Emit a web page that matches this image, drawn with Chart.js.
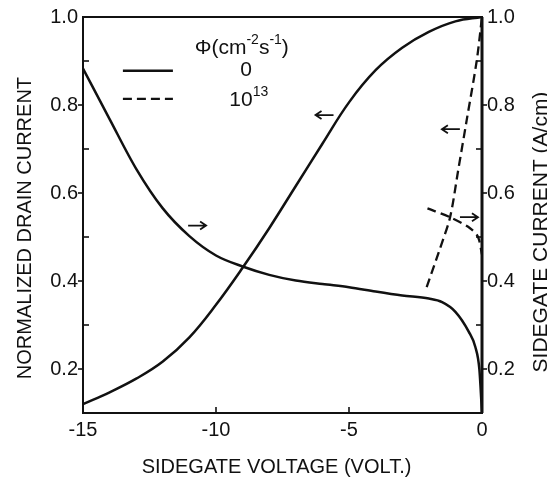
<!DOCTYPE html>
<html><head><meta charset="utf-8">
<script src="https://cdn.jsdelivr.net/npm/chart.js@4/dist/chart.umd.min.js"></script>
<style>html,body{margin:0;padding:0;background:#fff;}#wrap{width:547px;height:481px;}</style>
</head><body><div id="wrap"><canvas id="c" width="547" height="481"></canvas></div>
<script>
const FONT = '"Liberation Sans", Arial, sans-serif';
const INK = '#111';

// Sidegate voltage (V) and normalized drain current, flux 0 (solid, left axis)
const vDrain0   = [-15, -14, -13, -12, -11, -10, -9, -8, -7, -6, -5, -4, -3, -2, -1, 0];
const drain0    = [0.12, 0.147, 0.178, 0.217, 0.272, 0.346, 0.43, 0.52, 0.616, 0.712, 0.806, 0.879, 0.93, 0.966, 0.99, 1.0];

// Sidegate current (A/cm), flux 0 (solid, right axis)
const vSide0    = [-15, -14, -13, -12, -11, -10, -9, -8, -7, -6, -5, -4, -3, -2, -1.5, -1, -0.5, -0.25, -0.1, 0];
const side0     = [0.883, 0.768, 0.655, 0.565, 0.502, 0.458, 0.433, 0.414, 0.401, 0.393, 0.386, 0.376, 0.367, 0.36, 0.352, 0.33, 0.285, 0.25, 0.2, 0.1];

// Flux 1e13 (dashed)
const vDrain13  = [-2.08, -1.6, -1.2, -0.9, -0.58, -0.2, 0];
const drain13   = [0.386, 0.47, 0.545, 0.65, 0.764, 0.9, 1.0];
const vSide13   = [-2.05, -1.2, -0.45, -0.15, 0];
const side13    = [0.565, 0.545, 0.52, 0.5, 0.46];

// Axis ticks
const xTicks = [-15, -10, -5, 0];
const yLabels = ['0.2', '0.4', '0.6', '0.8', '1.0'];

// Direction arrows (data coords, axis they point to)
const arrows = [
  {x: -5.92, y: 0.777, dir: -1},
  {x: -10.71, y: 0.526, dir: 1},
  {x: -1.17, y: 0.745, dir: -1},
  {x: -0.49, y: 0.545, dir: 1}
];

const pts = (xs, ys) => xs.map((x, i) => ({x, y: ys[i]}));

function richText(ctx, parts, x, y) {
  let cx = x;
  for (const p of parts) {
    ctx.font = (p.sup ? '14px ' : '21px ') + FONT;
    ctx.fillText(p.t, cx, p.sup ? y - 8 : y);
    cx += ctx.measureText(p.t).width;
  }
}

const decor = {
  id: 'decor',
  afterDraw(chart) {
    const ctx = chart.ctx, a = chart.chartArea;
    const sx = chart.scales.x, sy = chart.scales.y, sy2 = chart.scales.y2;
    ctx.save();
    ctx.strokeStyle = INK; ctx.fillStyle = INK;
    // frame
    ctx.lineWidth = 2;
    ctx.strokeRect(a.left, a.top, a.right - a.left, a.bottom - a.top);
    ctx.lineWidth = 3;
    ctx.beginPath(); ctx.moveTo(a.right, a.top); ctx.lineTo(a.right, a.bottom); ctx.stroke();
    // tick marks
    ctx.lineWidth = 1.6;
    for (const t of sy.ticks) {
      const k = Math.round(t.value * 10);
      if (k <= 1 || k >= 10) continue;
      const p = sy.getPixelForValue(t.value);
      ctx.beginPath();
      if (k % 2 === 0) { ctx.moveTo(a.left - 5, p); ctx.lineTo(a.left, p); }
      else { ctx.moveTo(a.left, p); ctx.lineTo(a.left + 6, p); }
      ctx.stroke();
    }
    for (const t of sy2.ticks) {
      const k = Math.round(t.value * 10);
      if (k <= 1 || k >= 10) continue;
      const p = sy2.getPixelForValue(t.value);
      ctx.beginPath();
      if (k % 2 === 0) { ctx.moveTo(a.right, p); ctx.lineTo(a.right + 5, p); }
      else { ctx.moveTo(a.right, p); ctx.lineTo(a.right - 6, p); }
      ctx.stroke();
    }
    for (const t of sx.ticks) {
      if (t.value <= sx.min || t.value >= sx.max) continue;
      const p = sx.getPixelForValue(t.value);
      ctx.beginPath(); ctx.moveTo(p, a.bottom); ctx.lineTo(p, a.bottom - 6); ctx.stroke();
    }
    // axis titles
    ctx.font = '20px ' + FONT;
    ctx.textAlign = 'center'; ctx.textBaseline = 'middle';
    ctx.fillText('SIDEGATE VOLTAGE (VOLT.)', a.left + (a.right - a.left) * 0.485, a.bottom + 54);
    ctx.save(); ctx.translate(25, a.top + (a.bottom - a.top) * 0.533); ctx.rotate(-Math.PI / 2);
    ctx.fillText('NORMALIZED DRAIN CURRENT', 0, 0); ctx.restore();
    ctx.save(); ctx.translate(541, a.top + (a.bottom - a.top) * 0.543); ctx.rotate(-Math.PI / 2);
    ctx.font = '21px ' + FONT;
    ctx.fillText('SIDEGATE CURRENT (A/cm)', 0, 0); ctx.restore();
    // legend
    const lx0 = sx.getPixelForValue(-13.5), lx1 = sx.getPixelForValue(-11.62);
    const ly0 = sy.getPixelForValue(0.878), ly1 = sy.getPixelForValue(0.814);
    ctx.lineWidth = 2.5;
    ctx.beginPath(); ctx.moveTo(lx0, ly0); ctx.lineTo(lx1, ly0); ctx.stroke();
    ctx.lineWidth = 2.3; ctx.setLineDash([9, 5]);
    ctx.beginPath(); ctx.moveTo(lx0, ly1); ctx.lineTo(lx1, ly1); ctx.stroke();
    ctx.setLineDash([]);
    ctx.textAlign = 'left';
    richText(ctx, [{t: 'Φ(cm'}, {t: '-2', sup: true}, {t: 's'}, {t: '-1', sup: true}, {t: ')'}],
      sx.getPixelForValue(-10.8), sy.getPixelForValue(0.93));
    ctx.textAlign = 'center'; ctx.font = '21px ' + FONT;
    ctx.fillText('0', sx.getPixelForValue(-8.87), ly0);
    ctx.textAlign = 'left';
    richText(ctx, [{t: '10'}, {t: '13', sup: true}], sx.getPixelForValue(-9.5), ly1 + 1);
    // arrows
    ctx.lineWidth = 1.8;
    for (const ar of arrows) {
      const cx = sx.getPixelForValue(ar.x);
      const cy = (ar.dir < 0 ? sy : sy2).getPixelForValue(ar.y);
      const tip = cx + ar.dir * 9, tail = cx - ar.dir * 9;
      ctx.beginPath(); ctx.moveTo(tail, cy); ctx.lineTo(tip, cy);
      ctx.moveTo(tip - ar.dir * 6, cy - 4); ctx.lineTo(tip, cy); ctx.lineTo(tip - ar.dir * 6, cy + 4);
      ctx.stroke();
    }
    ctx.restore();
  }
};

const yTickCb = (v) => { const k = Math.round(v * 10); return k % 2 === 0 && yLabels.includes((k / 10).toFixed(1)) ? (k / 10).toFixed(1) : ''; };
const solid = {borderColor: INK, borderWidth: 2.5, pointRadius: 0, tension: 0.4, fill: false};
const dashed = {borderColor: INK, borderWidth: 2.3, borderDash: [9, 5], pointRadius: 0, tension: 0.3, fill: false};

new Chart(document.getElementById('c'), {
  type: 'line',
  data: {
    datasets: [
      Object.assign({label: 'drain 0', data: pts(vDrain0, drain0), yAxisID: 'y'}, solid),
      Object.assign({label: 'sidegate 0', data: pts(vSide0, side0), yAxisID: 'y2'}, solid, {cubicInterpolationMode: 'monotone'}),
      Object.assign({label: 'drain 1e13', data: pts(vDrain13, drain13), yAxisID: 'y'}, dashed),
      Object.assign({label: 'sidegate 1e13', data: pts(vSide13, side13), yAxisID: 'y2'}, dashed)
    ]
  },
  options: {
    responsive: false, animation: false, devicePixelRatio: 1,
    layout: {padding: {top: 16, left: 0, right: 0, bottom: 0}},
    plugins: {legend: {display: false}, tooltip: {enabled: false}},
    scales: {
      x: {
        type: 'linear', min: -15, max: 0,
        afterFit: (s) => { s.height = 68; },
        afterBuildTicks: (s) => { s.ticks = xTicks.map(v => ({value: v})); },
        grid: {display: false, drawTicks: false}, border: {display: false},
        ticks: {color: INK, font: {family: FONT, size: 20}, padding: 5, maxRotation: 0, autoSkip: false, callback: (v) => String(v)}
      },
      y: {
        type: 'linear', position: 'left', min: 0.1, max: 1.0,
        afterFit: (s) => { s.width = 83; },
        grid: {display: false, drawTicks: false}, border: {display: false},
        ticks: {stepSize: 0.1, color: INK, font: {family: FONT, size: 20}, padding: 5, autoSkip: false, callback: yTickCb}
      },
      y2: {
        type: 'linear', position: 'right', min: 0.1, max: 1.0,
        afterFit: (s) => { s.width = 65; },
        grid: {display: false, drawTicks: false}, border: {display: false},
        ticks: {stepSize: 0.1, color: INK, font: {family: FONT, size: 20}, padding: 5, autoSkip: false, callback: yTickCb}
      }
    }
  },
  plugins: [decor]
});
</script></body></html>
